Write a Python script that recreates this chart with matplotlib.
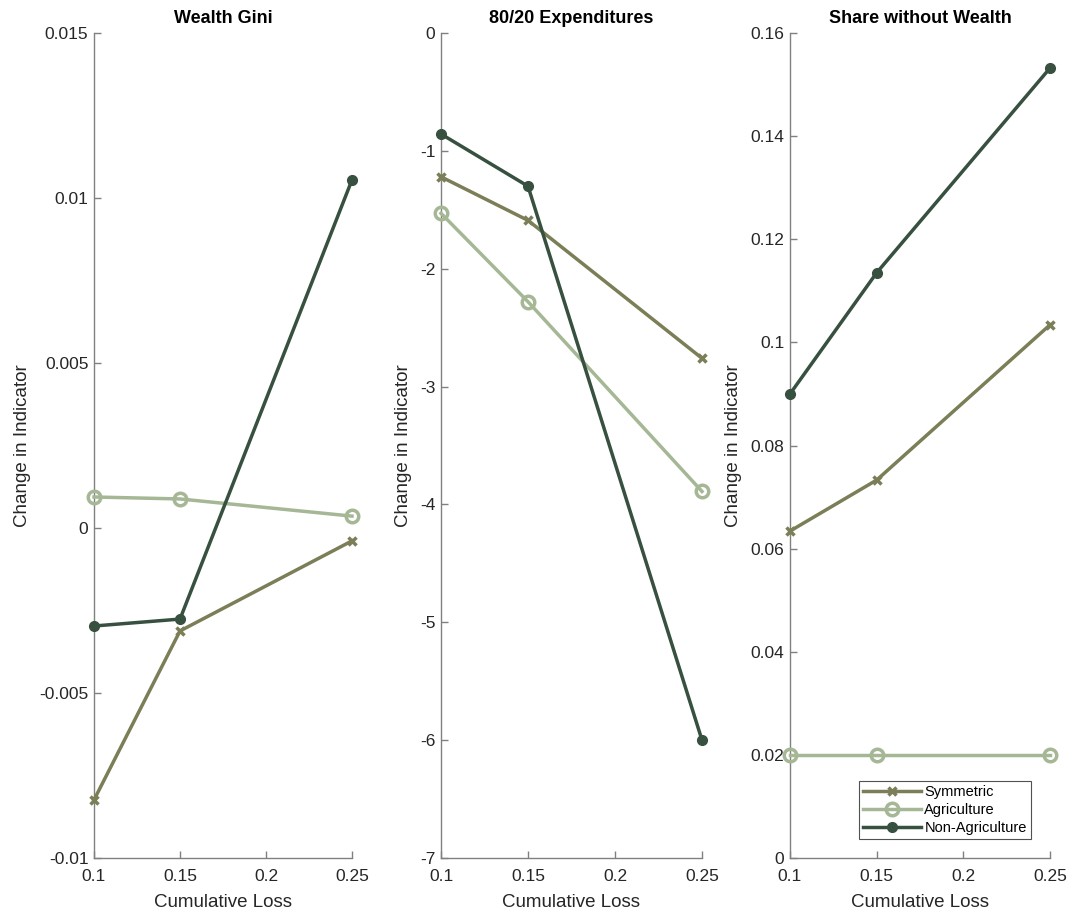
import matplotlib
matplotlib.use("Agg")
import matplotlib.pyplot as plt

plt.rcParams['font.family'] = ['Liberation Sans', 'DejaVu Sans']

x = [0.1, 0.15, 0.25]
series_names = ["Symmetric", "Agriculture", "Non-Agriculture"]
colors = ["#7b7e57", "#a5b795", "#37503f"]

gini_sym = [-0.00824, -0.00312, -0.00039]
gini_agr = [0.00094, 0.00088, 0.00036]
gini_non = [-0.00297, -0.00276, 0.01055]

exp_sym = [-1.22, -1.59, -2.76]
exp_agr = [-1.53, -2.28, -3.89]
exp_non = [-0.857, -1.30, -6.0]

share_sym = [0.0634, 0.0733, 0.1034]
share_agr = [0.0200, 0.0200, 0.0200]
share_non = [0.0900, 0.1135, 0.1532]

titles = ["Wealth Gini", "80/20 Expenditures", "Share without Wealth"]
ylims = [(-0.01, 0.015), (-7, 0), (0, 0.16)]
yticks = [[-0.01, -0.005, 0, 0.005, 0.01, 0.015],
          [-7, -6, -5, -4, -3, -2, -1, 0],
          [0, 0.02, 0.04, 0.06, 0.08, 0.1, 0.12, 0.14, 0.16]]
yticklabels = [["-0.01", "-0.005", "0", "0.005", "0.01", "0.015"],
               ["-7", "-6", "-5", "-4", "-3", "-2", "-1", "0"],
               ["0", "0.02", "0.04", "0.06", "0.08", "0.1", "0.12", "0.14", "0.16"]]
xticks = [0.1, 0.15, 0.2, 0.25]
xticklabels = ["0.1", "0.15", "0.2", "0.25"]

data = [(gini_sym, gini_agr, gini_non), (exp_sym, exp_agr, exp_non), (share_sym, share_agr, share_non)]

fig = plt.figure(figsize=(10.79, 9.17), dpi=100)
lefts = [94 / 1079, 441 / 1079, 790 / 1079]
widths = [258 / 1079, 261 / 1079, 260 / 1079]
bottom = 1 - 858 / 917
height = (858 - 33) / 917

axcol = "#262626"
for i in range(3):
    ax = fig.add_axes([lefts[i], bottom, widths[i], height])
    sym, agr, non = data[i]
    ax.plot(x, sym, color=colors[0], lw=2.5, marker='x', ms=6, mew=2.5, label=series_names[0], clip_on=False, zorder=3)
    ax.plot(x, agr, color=colors[1], lw=2.5, marker='o', ms=9, mew=2.5, mfc='none', label=series_names[1], clip_on=False, zorder=3)
    ax.plot(x, non, color=colors[2], lw=2.5, marker='o', ms=7, label=series_names[2], clip_on=False, zorder=4)
    ax.set_xlim(0.1, 0.25)
    ax.set_ylim(*ylims[i])
    ax.set_xticks(xticks)
    ax.set_xticklabels(xticklabels)
    ax.set_yticks(yticks[i])
    ax.set_yticklabels(yticklabels[i])
    for s in ['top', 'right']:
        ax.spines[s].set_visible(False)
    for s in ['left', 'bottom']:
        ax.spines[s].set_color("#808080")
        ax.spines[s].set_linewidth(1.0)
    ax.tick_params(direction='in', length=5, width=1, color="#808080", labelsize=12.5, labelcolor=axcol, pad=4)
    ax.tick_params(axis='x', pad=8)
    ax.set_title(titles[i], fontsize=13, fontweight='bold', pad=7)
    ax.set_xlabel("Cumulative Loss", fontsize=13.5, color=axcol, labelpad=7)
    ax.set_ylabel("Change in Indicator", fontsize=13.5, color=axcol, labelpad=6)
    if i == 2:
        leg = ax.legend(loc='lower right', fontsize=10.5, frameon=True, fancybox=False,
                        edgecolor="#262626", handlelength=4.0, borderpad=0.3, labelspacing=0.25,
                        handletextpad=0.2, borderaxespad=1.3)
        leg.get_frame().set_linewidth(0.8)

fig.savefig("out.png", dpi=100)
